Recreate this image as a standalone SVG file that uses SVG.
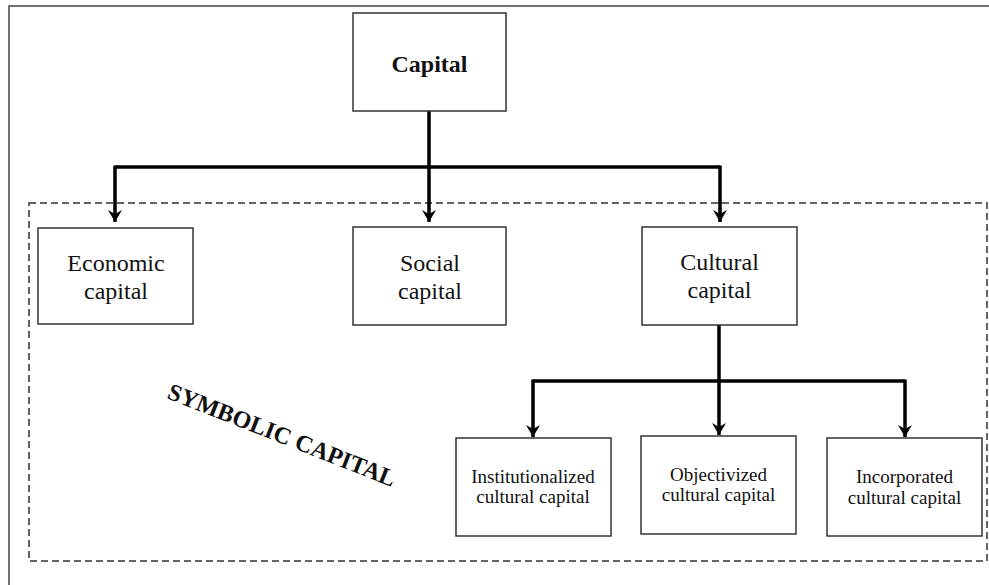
<svg xmlns="http://www.w3.org/2000/svg" width="989" height="585" viewBox="0 0 989 585">
<style>
.box{fill:#fff;stroke:#333;stroke-width:1.5}
.t1{font-family:"Liberation Serif","Times New Roman",serif;font-size:24px;fill:#111;text-anchor:middle}
.t2{font-family:"Liberation Serif","Times New Roman",serif;font-size:19px;fill:#111;text-anchor:middle}
.bold{font-weight:bold}
.con{fill:none;stroke:#000;stroke-width:3.5}
.frame{fill:none;stroke:#444;stroke-width:1.5}
.dash{fill:none;stroke:#333;stroke-width:1.5;stroke-dasharray:7,4}
</style>
<defs>
<marker id="ah" markerUnits="userSpaceOnUse" markerWidth="14" markerHeight="14" viewBox="0 0 14 14" refX="7" refY="13" orient="0">
<path d="M0,1 L7,5 L14,1 L7,13 Z" fill="#000"/>
</marker>
</defs>
<rect width="989" height="585" fill="#fff"/>
<path class="frame" d="M9,585 V6 H989"/>
<rect id="symbolic-area" class="dash" x="29" y="203" width="958" height="358"/>
<text id="symbolic-label" class="t1 bold" x="166" y="398" style="text-anchor:start;font-size:24px" transform="rotate(21.5 166 398)">SYMBOLIC CAPITAL</text>
<g id="connectors">
<path class="con" d="M429,111 V167"/>
<path class="con" d="M115,167 H720"/>
<path class="con" d="M115,165.5 V222" marker-end="url(#ah)"/>
<path class="con" d="M429,167 V222" marker-end="url(#ah)"/>
<path class="con" d="M720,165.5 V222" marker-end="url(#ah)"/>
<path class="con" d="M719,325 V381"/>
<path class="con" d="M533,381 H905"/>
<path class="con" d="M533,379.5 V437" marker-end="url(#ah)"/>
<path class="con" d="M719,381 V435" marker-end="url(#ah)"/>
<path class="con" d="M905,379.5 V437" marker-end="url(#ah)"/>
</g>
<g id="capital">
<rect class="box" x="353" y="13" width="153" height="98"/>
<text class="t1 bold" x="429.5" y="72">Capital</text>
</g>
<g id="economic">
<rect class="box" x="38" y="228" width="155" height="96"/>
<text class="t1" x="116" y="271">Economic</text>
<text class="t1" x="116" y="299">capital</text>
</g>
<g id="social">
<rect class="box" x="353" y="227" width="153" height="98"/>
<text class="t1" x="430" y="271">Social</text>
<text class="t1" x="430" y="299">capital</text>
</g>
<g id="cultural">
<rect class="box" x="642" y="227" width="155" height="98"/>
<text class="t1" x="719.5" y="270">Cultural</text>
<text class="t1" x="719.5" y="298">capital</text>
</g>
<g id="institutionalized">
<rect class="box" x="456" y="438" width="155" height="98"/>
<text class="t2" x="533" y="483">Institutionalized</text>
<text class="t2" x="533" y="503">cultural capital</text>
</g>
<g id="objectivized">
<rect class="box" x="641" y="436" width="155" height="98"/>
<text class="t2" x="718.5" y="481">Objectivized</text>
<text class="t2" x="718.5" y="501">cultural capital</text>
</g>
<g id="incorporated">
<rect class="box" x="827" y="438" width="155" height="98"/>
<text class="t2" x="904.5" y="483">Incorporated</text>
<text class="t2" x="904.5" y="504">cultural capital</text>
</g>
</svg>
